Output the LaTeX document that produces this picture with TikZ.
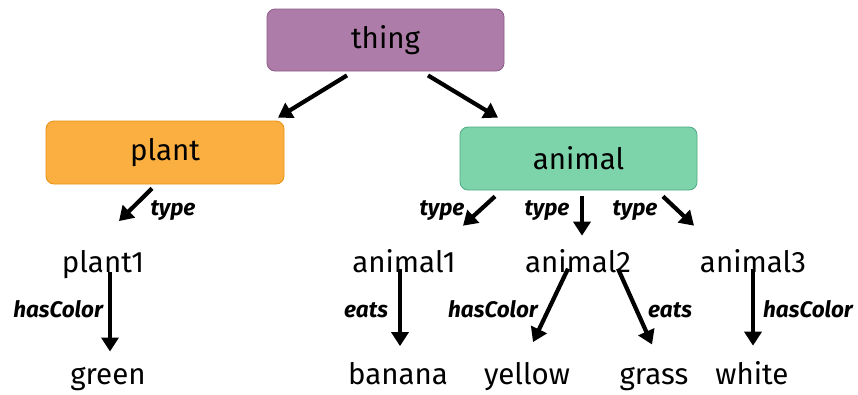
\documentclass[tikz,border=0pt]{standalone}
\usepackage{fontspec}
\setmainfont{Fira Sans}
\usetikzlibrary{calc,arrows.meta}
\definecolor{thingfill}{HTML}{AE7CA8}
\definecolor{thingline}{HTML}{8C5C88}
\definecolor{plantfill}{HTML}{FBAF41}
\definecolor{plantline}{HTML}{E8900F}
\definecolor{animalfill}{HTML}{7DD4AA}
\definecolor{animalline}{HTML}{4DA882}
\tikzset{
  box/.style={rounded corners=8pt, line width=0.8pt, minimum width=237pt, minimum height=62pt, inner sep=0pt, font=\fontsize{29.5}{34}\selectfont},
  term/.style={anchor=base, inner sep=0pt, font=\fontsize{29.5}{34}\selectfont},
  rel/.style={anchor=base, inner sep=0pt, font=\fontsize{22.5}{26}\selectfont\bfseries\itshape},
  arr/.style={line width=4.2pt, -{Triangle[length=14pt,width=17pt]}}
}
\begin{document}
\begin{tikzpicture}[x=1pt,y=-1pt]
\useasboundingbox (0,0) rectangle (858,394);
\node[box, fill=thingfill, draw=thingline] (thing) at (385.5,40) {thing};
\node[box, fill=plantfill, draw=plantline, minimum width=238pt, minimum height=63pt] (plant) at (165,152.5) {plant};
\node[box, fill=animalfill, draw=animalline, minimum height=63pt] (animal) at (578.5,158.5) {animal};
\node[term] (plant1) at (103,272) {plant1};
\node[term] (animal1) at (404,272) {animal1};
\node[term] (animal2) at (578,272) {animal2};
\node[term] (animal3) at (753,272) {animal3};
\node[term] (green) at (108,384) {green};
\node[term] (banana) at (398,384) {banana};
\node[term] (yellow) at (527,384) {yellow};
\node[term] (grass) at (654,384) {grass};
\node[term] (white) at (752,384) {white};
\draw[arr] ($(thing.south)+(-38.5,4)$) -- ($(plant.north)+(113,-3)$);
\draw[arr] ($(thing.south)+(42.5,4)$) -- ($(animal.north)+(-80.5,-9)$);
\draw[arr] ($(plant.south)+(-13,4)$) -- ($(plant1)+(16,-43)$);
\draw[arr] ($(animal.south)+(-83.5,6)$) -- ($(animal1)+(59,-35)$);
\draw[arr] ($(animal.south)+(3.5,6)$) -- ($(animal2)+(4,-25)$);
\draw[arr] ($(animal.south)+(84.5,6)$) -- ($(animal3)+(-59,-35)$);
\draw[arr] ($(plant1)+(7,8)$) -- ($(green)+(2,-27)$);
\draw[arr] ($(animal1)+(-4,8)$) -- ($(banana)+(2,-27)$);
\draw[arr] ($(animal2)+(-10,8)$) -- ($(yellow)+(6,-34)$);
\draw[arr] ($(animal2)+(40,8)$) -- ($(grass)+(-2,-34)$);
\draw[arr] ($(animal3)+(0,8)$) -- ($(white)+(1,-27)$);
\node[rel] (t0) at (173,215) {type};
\node[rel] (t1) at (442,215) {type};
\node[rel] (t2) at (547,215) {type};
\node[rel] (t3) at (635,215) {type};
\node[rel, anchor=base east] (h0) at (103,317) {hasColor};
\node[rel] (e1) at (366,317) {eats};
\node[rel] (h2) at (493,317) {hasColor};
\node[rel] (e2) at (670,317) {eats};
\node[rel] (h3) at (808,317) {hasColor};
\end{tikzpicture}
\end{document}
